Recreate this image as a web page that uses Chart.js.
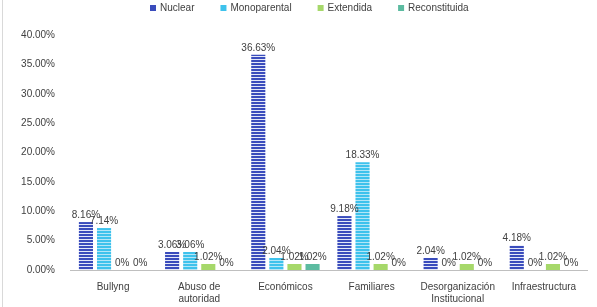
<!DOCTYPE html>
<html><head><meta charset="utf-8">
<script src="https://cdn.jsdelivr.net/npm/chart.js@4"></script>
<style>html,body{margin:0;padding:0;background:#fff}#wrap{width:597px;height:307px;position:relative}</style>
</head><body><div id="wrap"><canvas id="c" width="597" height="307"></canvas></div>
<script>
const categories = ["Bullyng", ["Abuso de","autoridad"], "Económicos", "Familiares", ["Desorganización","Institucional"], "Infraestructura"];
const seriesNames = ["Nuclear", "Monoparental", "Extendida", "Reconstituida"];
const nuclear = [8.16, 3.06, 36.63, 9.18, 2.04, 4.18];
const monoparental = [7.14, 3.06, 2.04, 18.33, 0, 0];
const extendida = [0, 1.02, 1.02, 1.02, 1.02, 1.02];
const reconstituida = [0, 0, 1.02, 0, 0, 0];
const yTicks = [0, 5, 10, 15, 20, 25, 30, 35, 40];

const FONT = '"Liberation Sans", Arial, sans-serif';
function stripe(c1, c2) {
  const p = document.createElement('canvas');
  p.width = 4; p.height = 3;
  const g = p.getContext('2d');
  g.fillStyle = c1; g.fillRect(0,0,4,3);
  g.fillStyle = c2; g.fillRect(0,2,4,1);
  return g.createPattern(p, 'repeat');
}
const ctx = document.getElementById('c').getContext('2d');
const pNuc = stripe('#3a4cbc', '#e4e8f8');
const pMono = stripe('#3ec2ec', '#b4e6f7');
const legendCols = ['#3a4cbc','#3ec2ec','#a6d86a','#5cbba0'];

const labelPlugin = {
  id: 'vals',
  afterDatasetsDraw(chart) {
    const g = chart.ctx;
    g.save();
    g.font = '10px ' + FONT;
    g.fillStyle = '#404040';
    g.textAlign = 'center';
    g.textBaseline = 'bottom';
    chart.data.datasets.forEach((ds, i) => {
      const meta = chart.getDatasetMeta(i);
      meta.data.forEach((bar, j) => {
        const v = ds.data[j];
        const t = v === 0 ? '0%' : v.toFixed(2) + '%';
        g.fillText(t, bar.x, bar.y - 2);
      });
    });
    // legend
    g.textAlign = 'left';
    g.textBaseline = 'middle';
    const gap = 26, box = 6, tgap = 4;
    const widths = seriesNames.map(n => g.measureText(n).width);
    let x = 150;
    const y = 8;
    seriesNames.forEach((n, i) => {
      g.fillStyle = legendCols[i];
      g.fillRect(x, y - box/2, box, box);
      g.fillStyle = '#404040';
      g.fillText(n, x + box + tgap, y);
      x += box + tgap + widths[i] + gap;
    });
    // outer left border
    g.strokeStyle = '#d9d9d9';
    g.lineWidth = 1;
    g.beginPath(); g.moveTo(2.5, 0); g.lineTo(2.5, 307); g.stroke();
    g.restore();
  }
};

new Chart(ctx, {
  type: 'bar',
  data: {
    labels: categories,
    datasets: [
      {label: seriesNames[0], data: nuclear, backgroundColor: pNuc},
      {label: seriesNames[1], data: monoparental, backgroundColor: pMono},
      {label: seriesNames[2], data: extendida, backgroundColor: '#a6d86a'},
      {label: seriesNames[3], data: reconstituida, backgroundColor: '#5cbba0'}
    ]
  },
  options: {
    responsive: false,
    animation: false,
    categoryPercentage: 0.84,
    barPercentage: 0.78,
    layout: {padding: {top: 35, right: 10, left: 0, bottom: 0}},
    plugins: {
      legend: {display: false},
      tooltip: {enabled: false}
    },
    scales: {
      x: {
        afterFit(s) { s.height = 37; },
        grid: {display: false, drawTicks: false},
        border: {color: '#bfbfbf', width: 1},
        ticks: {color: '#404040', maxRotation: 0, autoSkip: false, padding: 11,
          font: {size: 10, family: FONT}}
      },
      y: {
        min: 0, max: 40,
        afterBuildTicks(s) { s.ticks = yTicks.map(v => ({value: v})); },
        afterFit(s) { s.width = 70; },
        grid: {display: false, drawTicks: true, tickLength: 4, tickColor: '#bfbfbf'},
        border: {display: false},
        ticks: {color: '#404040', padding: 11,
          font: {size: 10, family: FONT},
          callback: v => v.toFixed(2) + '%'}
      }
    }
  },
  plugins: [labelPlugin]
});
</script></body></html>
